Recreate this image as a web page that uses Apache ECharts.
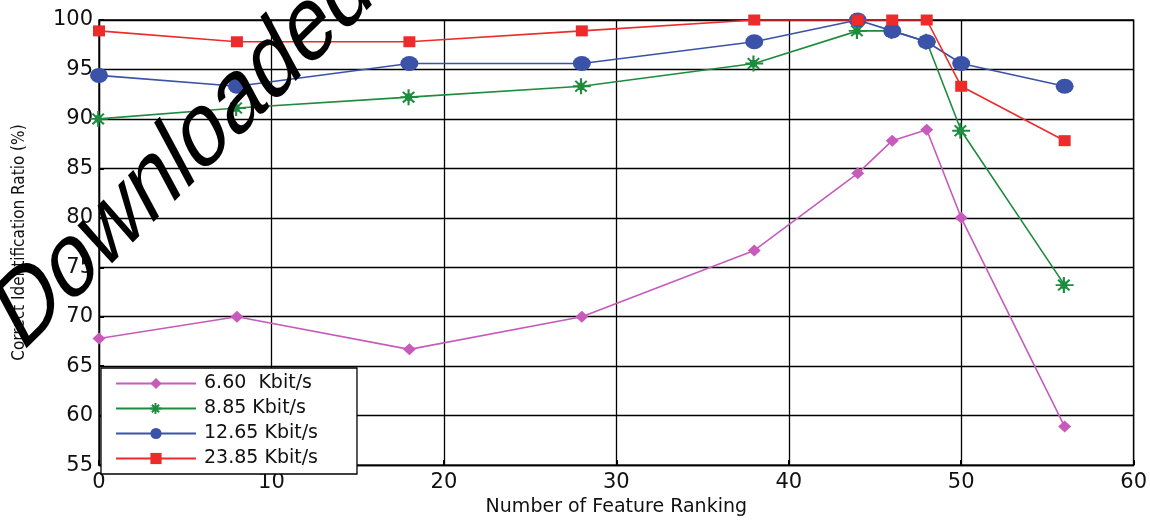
<!DOCTYPE html>
<html>
<head>
<meta charset="utf-8">
<script src="https://cdn.jsdelivr.net/npm/echarts@6/dist/echarts.min.js"></script>
<style>
html,body{margin:0;padding:0;background:#fff;}
#chart{width:1150px;height:522px;}
</style>
</head>
<body>
<div id="chart"></div>
<script>
const xValues = [0, 8, 18, 28, 38, 44, 46, 48, 50, 56];
const seriesNames = ['6.60  Kbit/s', '8.85 Kbit/s', '12.65 Kbit/s', '23.85 Kbit/s'];
const rate660 = [67.8, 70.0, 66.7, 70.0, 76.7, 84.5, 87.8, 88.9, 80.0, 58.9];
const rate885 = [90.0, 91.1, 92.2, 93.3, 95.6, 98.9, 98.9, 97.8, 88.8, 73.2];
const rate1265 = [94.4, 93.3, 95.6, 95.6, 97.8, 100, 98.9, 97.8, 95.6, 93.3];
const rate2385 = [98.9, 97.8, 97.8, 98.9, 100, 100, 100, 100, 93.3, 87.8];
const xTicks = [0, 10, 20, 30, 40, 50, 60];
const yTicks = [55, 60, 65, 70, 75, 80, 85, 90, 95, 100];

const colors = ['#c65bbb', '#1e8c3e', '#3a52a8', '#ee2b2b'];
const starPath = 'path://M-10,0 L12,0 M0,-9 L0,9 M-7,-6 L7,6 M-7,6 L7,-6 M-3,-3 L3,-3 L3,3 L-3,3 Z';

function pairs(vals){ return xValues.map((x,i)=>[x, vals[i]]); }

const chart = echarts.init(document.getElementById('chart'));
const option = {
  animation: false,
  backgroundColor: '#fff',
  grid: { left: 99, right: 14, top: 20, bottom: 47, show: true, borderColor: '#000', borderWidth: 1.3, backgroundColor: 'transparent' },
  xAxis: {
    type: 'value', min: xTicks[0], max: xTicks[xTicks.length-1], interval: 10,
    name: 'Number of Feature Ranking', nameLocation: 'middle', nameGap: 28,
    nameTextStyle: { fontFamily: 'DejaVu Sans', fontSize: 19, color: '#111' },
    axisLine: { show: true, lineStyle: { color: '#000', width: 1.3 } },
    axisTick: { show: true, inside: true, length: 5, lineStyle: { color: '#000', width: 2 } },
    axisLabel: { fontFamily: 'DejaVu Sans', fontSize: 21, color: '#111', margin: 7 },
    splitLine: { show: true, lineStyle: { color: '#000', width: 1.3 } }
  },
  yAxis: {
    type: 'value', min: yTicks[0], max: yTicks[yTicks.length-1], interval: 5,
    name: 'Correct Identification Ratio (%)', nameLocation: 'middle', nameGap: 71, nameRotate: 90,
    nameTextStyle: { fontFamily: 'DejaVu Sans Condensed', fontSize: 17, color: '#111' },
    axisLine: { show: true, lineStyle: { color: '#000', width: 1.3 } },
    axisTick: { show: true, inside: true, length: 5, lineStyle: { color: '#000', width: 2 } },
    axisLabel: { fontFamily: 'DejaVu Sans', fontSize: 21, color: '#111', margin: 6 },
    splitLine: { show: true, lineStyle: { color: '#000', width: 1.3 } }
  },
  legend: {
    orient: 'vertical', left: 101, top: 368,
    backgroundColor: '#fff', borderColor: '#000', borderWidth: 1.3,
    padding: [6, 39, 6, 14], itemWidth: 80, itemHeight: 14, itemGap: 6,
    textStyle: { fontFamily: 'DejaVu Sans', fontSize: 19, lineHeight: 19, color: '#111', padding: [0,0,0,3] },
    data: seriesNames
  },
  series: [
    { name: seriesNames[0], type: 'line', data: pairs(rate660), symbol: 'diamond', symbolSize: [13, 12],
      lineStyle: { color: colors[0], width: 1.6 }, itemStyle: { color: colors[0] }, z: 3 },
    { name: seriesNames[1], type: 'line', data: pairs(rate885), symbol: starPath, symbolSize: [18, 16],
      lineStyle: { color: colors[1], width: 1.6 }, itemStyle: { color: 'rgba(0,0,0,0)', borderColor: colors[1], borderWidth: 2 }, z: 4 },
    { name: seriesNames[2], type: 'line', data: pairs(rate1265), symbol: 'circle', symbolSize: [18, 15],
      lineStyle: { color: colors[2], width: 1.6 }, itemStyle: { color: colors[2] }, z: 5 },
    { name: seriesNames[3], type: 'line', data: pairs(rate2385), symbol: 'rect', symbolSize: [12, 11],
      lineStyle: { color: colors[3], width: 1.6 }, itemStyle: { color: colors[3] }, z: 6 }
  ],
  graphic: [
    { type: 'text', x: 8, y: 329, rotation: 0.7824, scaleX: 0.90, scaleY: 0.969, skewX: -0.2888, z: 100,
      style: { text: 'Downloaded', font: '100px "Liberation Sans"', fill: '#000', textAlign: 'left', textVerticalAlign: 'middle' } }
  ]
};
chart.setOption(option);
</script>
</body>
</html>
